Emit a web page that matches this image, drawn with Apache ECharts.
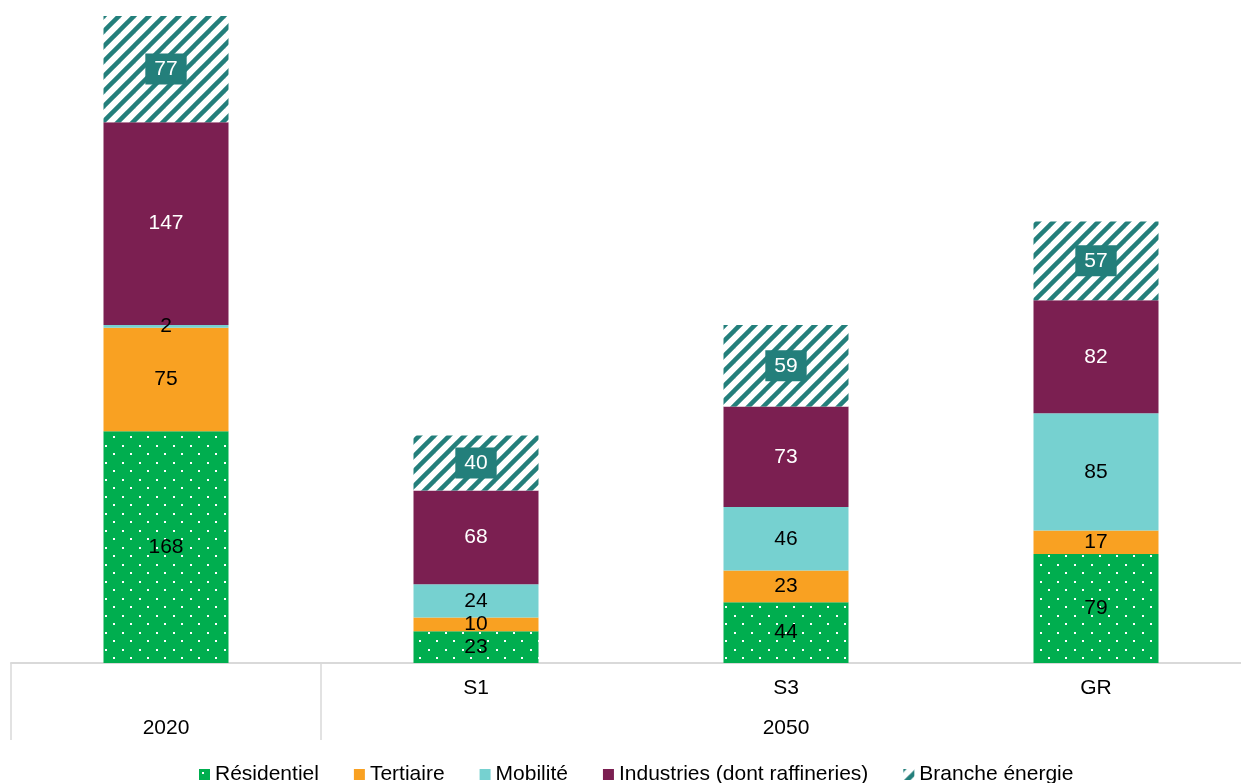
<!DOCTYPE html>
<html>
<head>
<meta charset="utf-8">
<script src="https://cdn.jsdelivr.net/npm/echarts@6/dist/echarts.min.js"></script>
<style>html,body{margin:0;padding:0;background:#fff;overflow:hidden;width:1241px;height:783px}#c{width:1251px;height:783px}</style>
</head>
<body>
<div id="c"></div>
<script>
const scenarios = ['', 'S1', 'S3', 'GR'];
const periods = ['2020', '', '2050', ''];
const residentiel = [168, 23, 44, 79];
const tertiaire = [75, 10, 23, 17];
const mobilite = [2, 24, 46, 85];
const industries = [147, 68, 73, 82];
const branche = [77, 40, 59, 57];

const GREEN = '#00AE4F', ORANGE = '#F9A122', CYAN = '#76D1D0', PURPLE = '#7B1F51', TEAL = '#237F7B';

function dotPattern() {
  const c = document.createElement('canvas');
  c.width = 17; c.height = 17;
  const g = c.getContext('2d');
  g.fillStyle = GREEN; g.fillRect(0, 0, 17, 17);
  g.fillStyle = '#ffffff';
  g.fillRect(3, 3, 2, 2);
  g.fillRect(11, 11, 2, 2);
  return c;
}
function hatchPattern() {
  const s = 15;
  const c = document.createElement('canvas');
  c.width = s; c.height = s;
  const g = c.getContext('2d');
  g.fillStyle = '#ffffff'; g.fillRect(0, 0, s, s);
  g.strokeStyle = TEAL; g.lineWidth = 4.5; g.lineCap = 'square';
  for (const o of [-s, 0, s]) {
    g.beginPath(); g.moveTo(o - 2, s + 2); g.lineTo(o + s + 2, -2); g.stroke();
  }
  return c;
}

const font = { fontFamily: 'Liberation Sans, Arial, sans-serif', fontSize: 21 };
const chart = echarts.init(document.getElementById('c'), null, { renderer: 'canvas' });

function mk(name, data, color, labelColor, extraLabel) {
  return {
    name, type: 'bar', stack: 'all', data, barWidth: 125,
    itemStyle: { color },
    label: Object.assign({ show: true, position: 'inside', color: labelColor }, font, extraLabel || {}),
    emphasis: { disabled: true }
  };
}

chart.setOption({
  animation: false,
  grid: { left: 11, top: 16, right: 0, bottom: 120, containLabel: false },
  legend: {
    left: 194, top: 759, itemWidth: 11, itemHeight: 11, itemGap: 35,
    textStyle: Object.assign({ color: '#000' }, font),
    icon: 'rect'
  },
  xAxis: [
    {
      type: 'category', data: scenarios, position: 'bottom',
      axisLine: { show: true, lineStyle: { color: '#D9D9D9', width: 2 } },
      axisTick: { show: true, length: 77, lineStyle: { color: '#D9D9D9', width: 1.5 },
        interval: function (i) { return i <= 1; } },
      axisLabel: Object.assign({ color: '#000', margin: 15 }, font)
    },
    {
      type: 'category', data: periods, position: 'bottom', offset: 40,
      axisLine: { show: false }, axisTick: { show: false },
      axisLabel: Object.assign({ color: '#000', margin: 15, interval: 0 }, font)
    }
  ],
  yAxis: { type: 'value', min: 0, max: 469, show: false, splitLine: { show: false } },
  series: [
    mk('Résidentiel', residentiel, { image: dotPattern(), repeat: 'repeat' }, '#000'),
    mk('Tertiaire', tertiaire, ORANGE, '#000'),
    mk('Mobilité', mobilite, CYAN, '#000'),
    mk('Industries (dont raffineries)', industries, PURPLE, '#fff'),
    mk('Branche énergie', branche, { image: hatchPattern(), repeat: 'repeat' }, '#fff',
      { backgroundColor: TEAL, padding: [6, 9, 4, 9] })
  ]
});
</script>
</body>
</html>
